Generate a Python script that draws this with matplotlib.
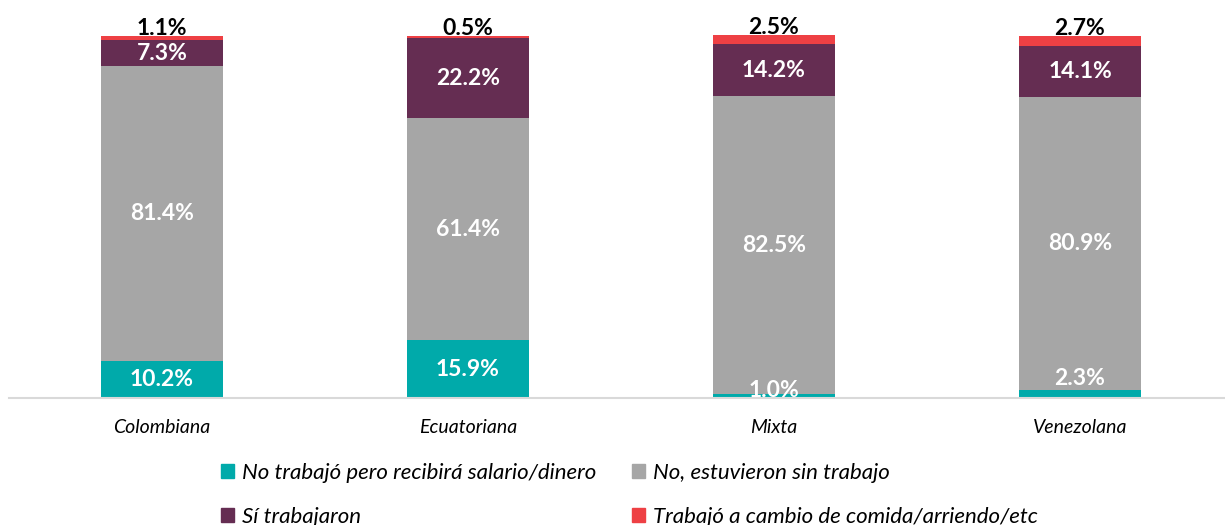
import matplotlib
matplotlib.use("Agg")
import matplotlib.pyplot as plt
from matplotlib.patches import Patch
import numpy as np

categories = ["Colombiana", "Ecuatoriana", "Mixta", "Venezolana"]
series_names = ["No trabajó pero recibirá salario/dinero",
                "No, estuvieron sin trabajo",
                "Sí trabajaron",
                "Trabajó a cambio de comida/arriendo/etc"]
no_trabajo_salario = [10.2, 15.9, 1.0, 2.3]
sin_trabajo = [81.4, 61.4, 82.5, 80.9]
si_trabajaron = [7.3, 22.2, 14.2, 14.1]
trabajo_cambio = [1.1, 0.5, 2.5, 2.7]

colors = ["#00AAAA", "#A6A6A6", "#652D52", "#EE4044"]
series = [no_trabajo_salario, sin_trabajo, si_trabajaron, trabajo_cambio]

plt.rcParams['font.family'] = ['Lato', 'DejaVu Sans']

fig = plt.figure(figsize=(12.25, 5.25), dpi=100)
ax = fig.add_axes([0.0073, 0.2419, 0.9992, 0.6895])
x = np.arange(len(categories))
width = 0.4
bottom = np.zeros(len(categories))
for vals, col in zip(series, colors):
    ax.bar(x, vals, width, bottom=bottom, color=col, clip_on=False, zorder=2)
    bottom += np.array(vals)

LFS = 16.5
bottom = np.zeros(len(categories))
for si, vals in enumerate(series):
    for i, v in enumerate(vals):
        if si == 3:
            ax.annotate(f"{v:.1f}%", (x[i], bottom[i] + v), xytext=(0, -2),
                        textcoords="offset points", ha="center", va="bottom",
                        fontsize=LFS, fontweight="bold", color="black",
                        annotation_clip=False)
        elif si == 0 and v < 5:
            off = {2: 2.5, 3: 8}[i]
            ax.annotate(f"{v:.1f}%", (x[i], bottom[i] + v), xytext=(0, off),
                        textcoords="offset points", ha="center", va="center",
                        fontsize=LFS, fontweight="bold", color="white",
                        annotation_clip=False)
        else:
            ax.text(x[i], bottom[i] + v / 2, f"{v:.1f}%", ha="center", va="center",
                    fontsize=LFS, fontweight="bold", color="white")
    bottom += np.array(vals)

ax.set_xlim(-0.5, 3.5)
ax.set_ylim(0, 100)
for s in ["top", "right", "left"]:
    ax.spines[s].set_visible(False)
ax.spines["bottom"].set_color("#D9D9D9")
ax.spines["bottom"].set_linewidth(1.5)
ax.set_yticks([])
ax.set_xticks(x)
ax.set_xticklabels(categories, fontstyle="italic", fontsize=14)
ax.tick_params(axis="x", length=0, pad=15)

handles = [Patch(color=colors[0]), Patch(color=colors[2]),
           Patch(color=colors[1]), Patch(color=colors[3])]
labels = [series_names[0], series_names[2], series_names[1], series_names[3]]
leg = fig.legend(handles, labels, ncol=2, loc="upper left",
                 bbox_to_anchor=(0.171, 0.14), frameon=False,
                 prop={"style": "italic", "size": 16},
                 handlelength=0.6, handleheight=0.6, handletextpad=0.35,
                 columnspacing=1.6, labelspacing=1.1, borderpad=0)

fig.savefig("out.png", dpi=100)
